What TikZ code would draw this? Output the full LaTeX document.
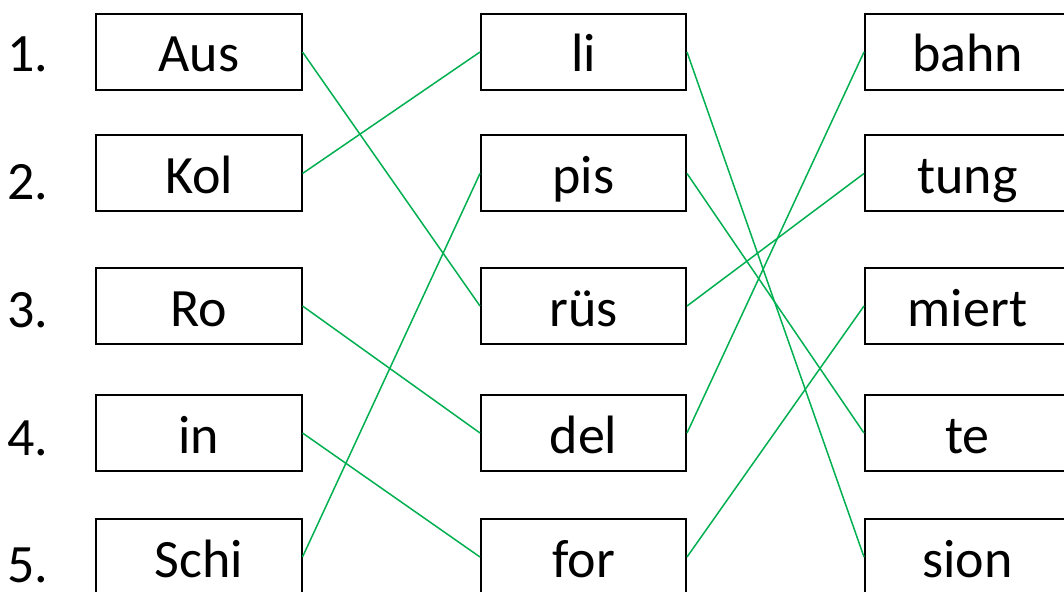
\documentclass[tikz,border=0pt]{standalone}
\usepackage{fontspec}
\setmainfont{Carlito}
\definecolor{linegreen}{RGB}{0,176,80}
\begin{document}
\begin{tikzpicture}[x=1bp,y=-1bp,
  wordbox/.style={draw=black, line width=2bp, minimum width=205bp, minimum height=76bp, inner sep=0pt,
    font=\fontsize{54bp}{58bp}\selectfont, text height=40bp, text depth=0pt},
  numlabel/.style={anchor=base west, inner sep=0pt, font=\fontsize{54bp}{58bp}\selectfont},
  link/.style={draw=linegreen, line width=1.5bp}]
\useasboundingbox (0,0) rectangle (1064,592);
\clip (0,0) rectangle (1064,592);
% numbers
\node[numlabel] (n1) at (7,72) {1.};
\node[numlabel] (n2) at (7,200) {2.};
\node[numlabel] (n3) at (7,327) {3.};
\node[numlabel] (n4) at (7,455) {4.};
\node[numlabel] (n5) at (7,582) {5.};
% left column
\node[wordbox] (a1) at (199,52) {Aus};
\node[wordbox] (a2) at (199,173.5) {Kol};
\node[wordbox] (a3) at (199,306) {Ro};
\node[wordbox] (a4) at (199,433) {in};
\node[wordbox] (a5) at (199,557) {Schi};
% middle column
\node[wordbox] (b1) at (583.5,52) {li};
\node[wordbox] (b2) at (583.5,173.5) {pis};
\node[wordbox] (b3) at (583.5,306) {rüs};
\node[wordbox] (b4) at (583.5,433) {del};
\node[wordbox] (b5) at (583.5,557) {for};
% right column
\node[wordbox] (c1) at (967.5,52) {bahn};
\node[wordbox] (c2) at (967.5,173.5) {tung};
\node[wordbox] (c3) at (967.5,306) {miert};
\node[wordbox] (c4) at (967.5,433) {te};
\node[wordbox] (c5) at (967.5,557) {sion};
% links left -> middle
\draw[link] (a1.east) -- (b3.west);
\draw[link] (a2.east) -- (b1.west);
\draw[link] (a3.east) -- (b4.west);
\draw[link] (a4.east) -- (b5.west);
\draw[link] (a5.east) -- (b2.west);
% links middle -> right
\draw[link] (b1.east) -- (c5.west);
\draw[link] (b2.east) -- (c4.west);
\draw[link] (b3.east) -- (c2.west);
\draw[link] (b4.east) -- (c1.west);
\draw[link] (b5.east) -- (c3.west);
\end{tikzpicture}
\end{document}
